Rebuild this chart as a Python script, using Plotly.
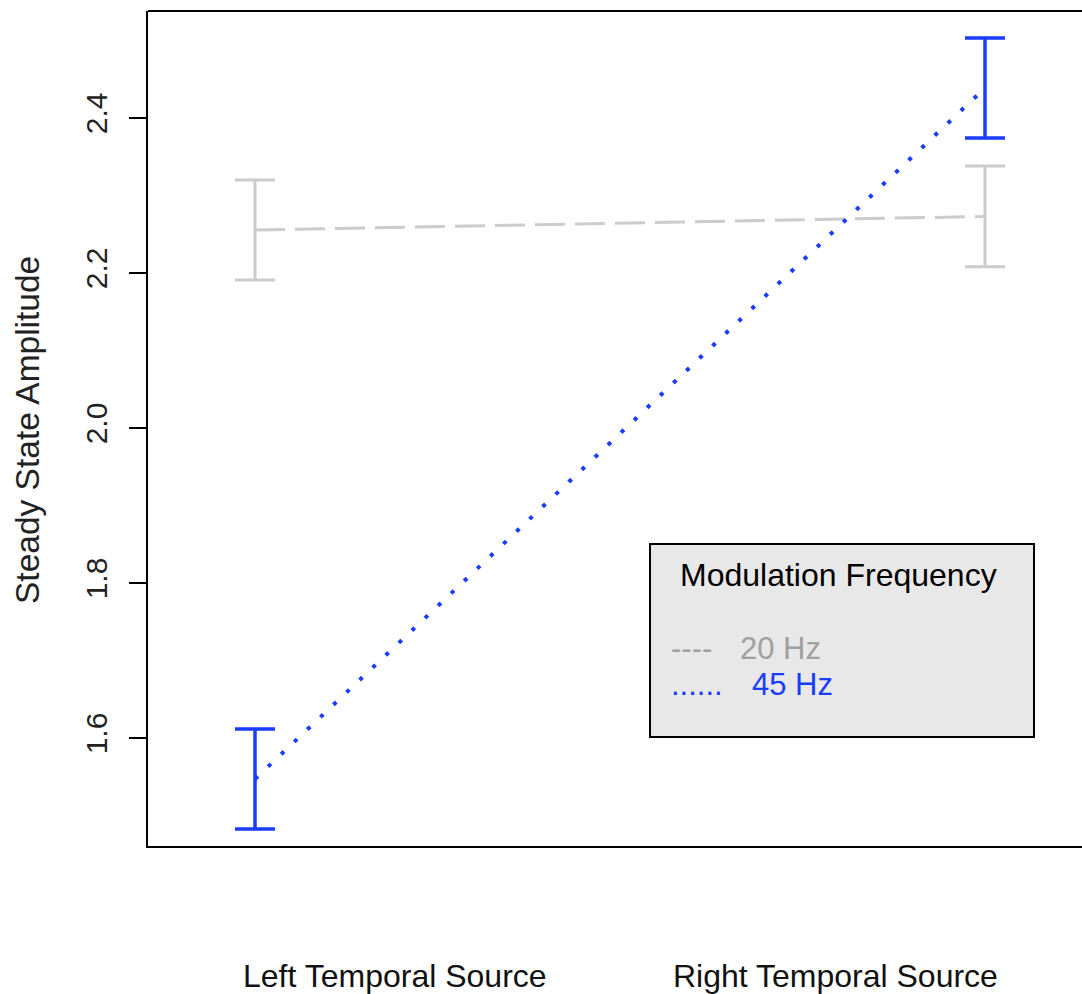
import plotly.graph_objects as go

# ---- data ----
sources = ["Left Temporal Source", "Right Temporal Source"]
x_pos = [1, 2]
hz20_mean = [2.2555, 2.2729]
hz20_se = [0.0645, 0.065]
hz45_mean = [1.547, 2.4387]
hz45_se = [0.0645, 0.0645]
y_ticks = [1.6, 1.8, 2.0, 2.2, 2.4]
y_tick_text = ["1.6", "1.8", "2.0", "2.2", "2.4"]

GRAY = "#cccccc"
BLUE = "#1a3cff"
FONT = "Liberation Sans, Arial, sans-serif"

W, H = 1082, 994
L, R, T, B = 148, 0, 11, 148
PW = W - L - R
PH = H - T - B


def px_x(p):
    return (p - L) / PW


def px_y(p):
    return (H - B - p) / PH


fig = go.Figure()
fig.add_trace(go.Scatter(
    x=x_pos, y=hz20_mean, mode="lines",
    line=dict(color=GRAY, width=3, dash="30px,10px"),
    error_y=dict(type="data", array=hz20_se, visible=True,
                 color=GRAY, thickness=3, width=20),
    showlegend=False, hoverinfo="skip"))
fig.add_trace(go.Scatter(
    x=x_pos, y=hz45_mean, mode="lines",
    line=dict(color=BLUE, width=4, dash="4px,14px"),
    error_y=dict(type="data", array=hz45_se, visible=True,
                 color=BLUE, thickness=3.5, width=20),
    showlegend=False, hoverinfo="skip"))

# x range so that x=1 -> pixel 255 and x=2 -> pixel 985
ppu = 985 - 255
x0 = 1 - (255 - L) / ppu
x1 = x0 + PW / ppu

fig.update_xaxes(range=[x0, x1], showgrid=False, zeroline=False,
                 showline=True, linecolor="black", linewidth=2,
                 showticklabels=False, ticks="")
fig.update_yaxes(range=[1.4606, 2.538], showgrid=False, zeroline=False,
                 showline=True, linecolor="black", linewidth=2,
                 tickvals=y_ticks, ticktext=y_tick_text,
                 ticks="outside", ticklen=17, tickwidth=2, tickcolor="black",
                 tickangle=-90, ticklabelstandoff=10,
                 tickfont=dict(family=FONT, size=30, color="#222222"))

shapes = [
    # top frame line
    dict(type="line", xref="paper", yref="paper", x0=0, x1=1, y0=1, y1=1,
         line=dict(color="black", width=2)),
    # legend box
    dict(type="rect", xref="paper", yref="paper",
         x0=px_x(650), x1=px_x(1034), y0=px_y(737), y1=px_y(544),
         fillcolor="#e8e8e8", line=dict(color="black", width=2), layer="above"),
]

label_x = [1 + (395 - 255) / ppu, 2 - (985 - 835) / ppu]
annotations = [
    dict(text=sources[i], x=label_x[i], xref="x", y=px_y(976), yref="paper",
         showarrow=False, xanchor="center", yanchor="middle",
         font=dict(family=FONT, size=32, color="#111111"))
    for i in range(2)
]
annotations.append(dict(
    text="Steady State Amplitude", textangle=-90, xref="paper", yref="paper",
    x=px_x(28), y=px_y(430), showarrow=False, xanchor="center", yanchor="middle",
    font=dict(family=FONT, size=33.5, color="#222222")))
annotations += [
    dict(text="Modulation Frequency", xref="paper", yref="paper",
         x=px_x(838), y=px_y(575), showarrow=False, xanchor="center", yanchor="middle",
         font=dict(family=FONT, size=32, color="black")),
    dict(text="----", xref="paper", yref="paper", x=px_x(669), y=px_y(648),
         showarrow=False, xanchor="left", yanchor="middle",
         font=dict(family=FONT, size=31, color="#a0a0a0")),
    dict(text="20 Hz", xref="paper", yref="paper", x=px_x(738), y=px_y(648),
         showarrow=False, xanchor="left", yanchor="middle",
         font=dict(family=FONT, size=31, color="#a0a0a0")),
    dict(text="......", xref="paper", yref="paper", x=px_x(669), y=px_y(684),
         showarrow=False, xanchor="left", yanchor="middle",
         font=dict(family=FONT, size=31, color=BLUE)),
    dict(text="45 Hz", xref="paper", yref="paper", x=px_x(750), y=px_y(684),
         showarrow=False, xanchor="left", yanchor="middle",
         font=dict(family=FONT, size=31, color=BLUE)),
]

fig.update_layout(
    width=W, height=H,
    margin=dict(l=L, r=R, t=T, b=B, autoexpand=False),
    paper_bgcolor="white", plot_bgcolor="white",
    shapes=shapes, annotations=annotations,
    showlegend=False,
)

fig.write_html(
    "out.html",
    config={"displayModeBar": False, "staticPlot": True},
    post_script="document.body.style.margin='0';"
                "document.documentElement.style.overflow='hidden';",
)
